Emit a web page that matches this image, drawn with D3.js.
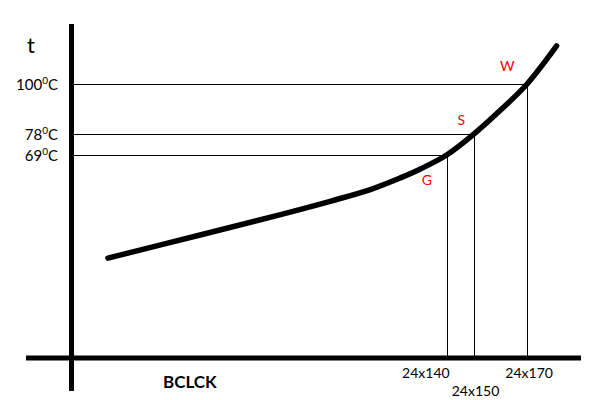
<!DOCTYPE html>
<html>
<head>
<meta charset="utf-8">
<script src="https://cdn.jsdelivr.net/npm/d3@7"></script>
<style>
  html, body { margin: 0; padding: 0; background: #fff; }
  svg { display: block; }
  text { font-family: Lato, "Open Sans", sans-serif; fill: #000; }
</style>
</head>
<body>
<svg id="chart" width="600" height="400"></svg>
<script>
// ---- data ----
// curve: BCLCK multiplier (x) vs temperature t (y)
const curveBclck = [13.6, 48, 78, 96.5, 111.5, 122.5, 130, 140, 150, 160, 170, 181];
const curveTemp  = [24, 34.1, 43.0, 48.8, 53.9, 58.9, 62.8, 69, 78, 88.5, 100, 116.6];
// marked operating points
const pointNames = ["G", "S", "W"];
const pointBclck = [140, 150, 170];
const pointTemp  = [69, 78, 100];
// tick labels
const xTickLabels = ["24x140", "24x150", "24x170"];
const yTickLabels = ["69", "78", "100"];
const xAxisTitle = "BCLCK";
const yAxisTitle = "t";

// ---- layout ----
const svg = d3.select("#chart");
const x = d3.scaleLinear().domain([0, 200]).range([71.5, 607.5]);
const y = d3.scaleLinear().domain([-19.6, 100]).range([358, 84]);
const crisp = v => Math.round(v) + 0.5;

// guide lines
const pts = pointBclck.map((b, i) => ({ b, t: pointTemp[i], name: pointNames[i] }));
svg.selectAll("line.h").data(pts).enter().append("line")
  .attr("x1", x(0)).attr("x2", d => x(d.b))
  .attr("y1", d => crisp(y(d.t))).attr("y2", d => crisp(y(d.t)))
  .attr("stroke", "#000").attr("stroke-width", 1);
svg.selectAll("line.v").data(pts).enter().append("line")
  .attr("x1", d => crisp(x(d.b))).attr("x2", d => crisp(x(d.b)))
  .attr("y1", d => y(d.t)).attr("y2", y(-19.6))
  .attr("stroke", "#000").attr("stroke-width", 1);

// axes (thick hand-drawn style)
svg.append("line").attr("x1", x(0)).attr("x2", x(0))
  .attr("y1", 24).attr("y2", 391)
  .attr("stroke", "#000").attr("stroke-width", 5);
svg.append("line").attr("x1", 26).attr("x2", 581)
  .attr("y1", y(-19.6)).attr("y2", y(-19.6))
  .attr("stroke", "#000").attr("stroke-width", 5);

// curve
const curveData = curveBclck.map((b, i) => [b, curveTemp[i]]);
svg.append("path")
  .datum(curveData)
  .attr("d", d3.line().x(d => x(d[0])).y(d => y(d[1])).curve(d3.curveCatmullRom.alpha(0.5)))
  .attr("fill", "none").attr("stroke", "#000")
  .attr("stroke-width", 5.5).attr("stroke-linecap", "round").attr("stroke-linejoin", "round");

// y tick labels
yTickLabels.forEach((lab, i) => {
  const t = svg.append("text")
    .attr("x", 58).attr("y", y(pointTemp[i]) + 6)
    .attr("text-anchor", "end").attr("font-size", 15);
  t.append("tspan").text(lab);
  t.append("tspan").text("0").attr("font-size", 10).attr("dy", -6);
  t.append("tspan").text("C").attr("dy", 6);
});

// x tick labels
const xAnchors = ["end", "middle", "middle"];
const xDx = [3, 2, 2];
const xBase = [378, 396, 378];
xTickLabels.forEach((lab, i) => {
  svg.append("text")
    .attr("x", x(pointBclck[i]) + xDx[i]).attr("y", xBase[i])
    .attr("text-anchor", xAnchors[i]).attr("font-size", 14)
    .text(lab);
});

// point labels
const lblDx = [-25, -16, -27];
const lblDy = [30, -9, -13];
pts.forEach((p, i) => {
  svg.append("text")
    .attr("x", x(p.b) + lblDx[i]).attr("y", y(p.t) + lblDy[i])
    .attr("font-size", 14).style("fill", "#ff0000")
    .text(p.name);
});

// axis titles
svg.append("text").attr("x", 27).attr("y", 53).attr("font-size", 22).text(yAxisTitle);
svg.append("text").attr("x", 163).attr("y", 388).attr("font-size", 17)
  .attr("font-weight", "bold").text(xAxisTitle);
</script>
</body>
</html>
